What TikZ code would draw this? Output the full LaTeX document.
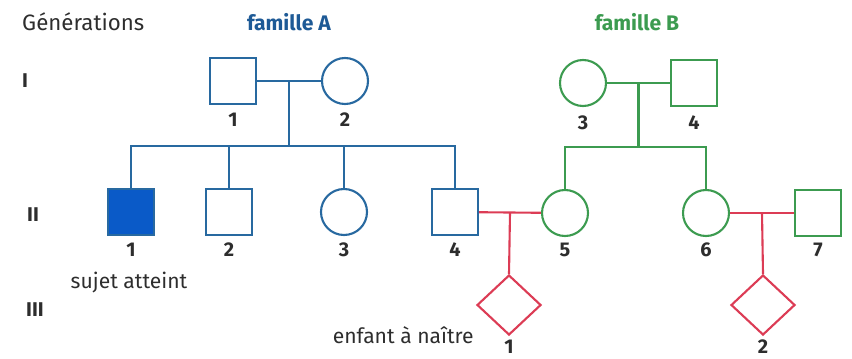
\documentclass[tikz,border=0pt]{standalone}
\usepackage{fontspec}
\setmainfont{Fira Sans}
\usetikzlibrary{calc,shapes.geometric}

\definecolor{bleuA}{RGB}{40,105,160}
\definecolor{bleuplein}{RGB}{10,90,200}
\definecolor{titreA}{RGB}{30,90,150}
\definecolor{vertB}{RGB}{60,155,80}
\definecolor{rougeC}{RGB}{220,60,85}
\definecolor{gristxt}{RGB}{45,45,45}

\tikzset{
    homme/.style={rectangle, draw, line width=1.8pt, minimum size=1.38cm, inner sep=0pt},
    femme/.style={circle, draw, line width=1.8pt, minimum size=1.38cm, inner sep=0pt},
    enfant/.style={diamond, draw, line width=1.8pt, minimum width=1.92cm, minimum height=1.8cm, inner sep=0pt},
    lien/.style={line width=1.8pt},
    numero/.style={font=\fontsize{17}{19}\selectfont\bfseries, text=gristxt},
    legende/.style={font=\fontsize{18}{20}\selectfont, text=gristxt}
}

\begin{document}
\begin{tikzpicture}[x=0.03cm, y=-0.03cm]
    \useasboundingbox (0,0) rectangle (852,358);

    \node[font=\fontsize{19}{21}\selectfont, text=gristxt, anchor=west, inner sep=0pt] (gen) at (22,22) {Générations};
    \node[font=\fontsize{18}{20}\selectfont\bfseries, text=titreA] (famA) at (289,22) {famille A};
    \node[font=\fontsize{18}{20}\selectfont\bfseries, text=vertB] (famB) at (637,22) {famille B};

    \node[numero] (g1) at (25,81) {I};
    \node[numero] (g2) at (33,215) {II};
    \node[numero] (g3) at (35,310) {III};

    % famille A
    \node[homme, bleuA] (i1) at (233,81) {};
    \node[femme, bleuA] (i2) at (345,81) {};
    \node[homme, bleuA, fill=bleuplein] (ii1) at (131,212) {};
    \node[homme, bleuA] (ii2) at (229,212) {};
    \node[femme, bleuA] (ii3) at (344,212) {};
    \node[homme, bleuA] (ii4) at (455,212) {};

    % famille B
    \node[femme, vertB] (i3) at (583,83) {};
    \node[homme, vertB] (i4) at (694,83) {};
    \node[femme, vertB] (ii5) at (565,213) {};
    \node[femme, vertB] (ii6) at (706,213) {};
    \node[homme, vertB] (ii7) at (818,213) {};

    % enfants
    \node[enfant, rougeC] (iii1) at (509,305) {};
    \node[enfant, rougeC] (iii2) at (763,305) {};

    % numeros
    \node[numero] (n1) at ($(i1) + (0,39)$) {1};
    \node[numero] (n2) at ($(i2) + (0,39)$) {2};
    \node[numero] (n3) at ($(i3) + (0,40)$) {3};
    \node[numero] (n4) at ($(i4) + (0,40)$) {4};
    \node[numero] (m1) at ($(ii1) + (0,38)$) {1};
    \node[numero] (m2) at ($(ii2) + (0,38)$) {2};
    \node[numero] (m3) at ($(ii3) + (0,38)$) {3};
    \node[numero] (m4) at ($(ii4) + (0,38)$) {4};
    \node[numero] (m5) at ($(ii5) + (0,37)$) {5};
    \node[numero] (m6) at ($(ii6) + (0,37)$) {6};
    \node[numero] (m7) at ($(ii7) + (0,37)$) {7};
    \node[numero] (p1) at ($(iii1) + (0,42)$) {1};
    \node[numero] (p2) at ($(iii2) + (0,42)$) {2};

    \node[legende] (atteint) at ($(m1) + (-2,33)$) {sujet atteint};
    \node[legende, anchor=east, inner sep=0pt] (naitre) at ($(iii1.west) + (-2,30)$) {enfant à naître};

    % liens famille A
    \coordinate (mA) at ($(i1.east)!0.5!(i2.west)$);
    \coordinate (fA) at ($(mA) + (0,65)$);
    \draw[lien, bleuA] (i1) -- (i2);
    \draw[lien, bleuA] (mA) -- (fA);
    \draw[lien, bleuA] (ii1.north) -- (ii1.north |- fA) -- (ii4.north |- fA) -- (ii4.north);
    \draw[lien, bleuA] (ii2.north) -- (ii2.north |- fA);
    \draw[lien, bleuA] (ii3.north) -- (ii3.north |- fA);

    % liens famille B
    \coordinate (mB) at ($(i3.east)!0.5!(i4.west)$);
    \coordinate (fB) at ($(mB) + (0,64)$);
    \draw[lien, vertB] (i3) -- (i4);
    \draw[lien, vertB] (mB) -- (fB);
    \draw[lien, vertB] (ii5.north) -- (ii5.north |- fB) -- (ii6.north |- fB) -- (ii6.north);

    % unions
    \coordinate (mC) at ($(ii4.east)!0.5!(ii5.west)$);
    \coordinate (mD) at ($(ii6.east)!0.5!(ii7.west)$);
    \draw[lien, rougeC] (ii4) -- (ii5);
    \draw[lien, rougeC] (ii6) -- (ii7);
    \draw[lien, rougeC] (mC) -- (iii1.north);
    \draw[lien, rougeC] (mD) -- (iii2.north);

\end{tikzpicture}
\end{document}
